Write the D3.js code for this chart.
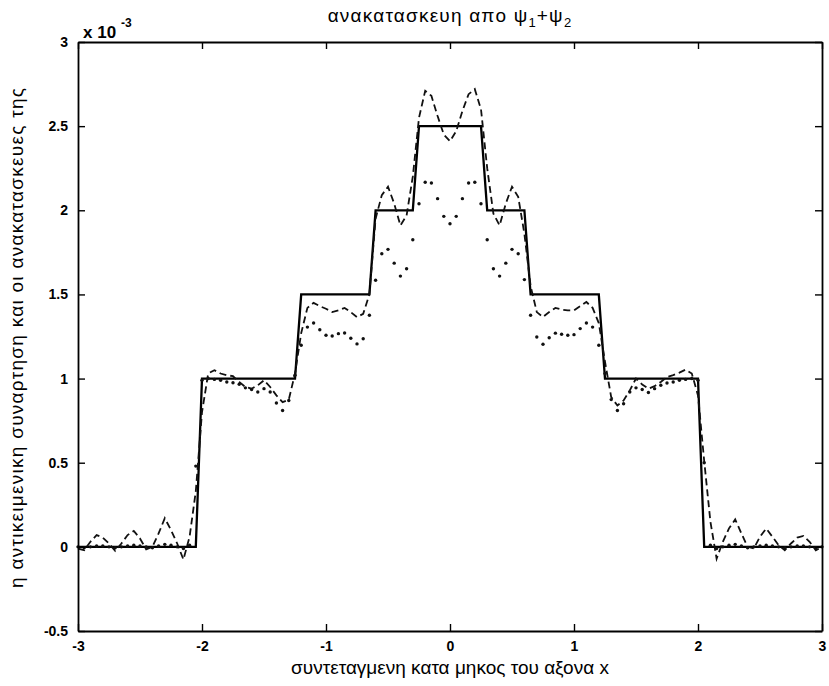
<!DOCTYPE html>
<html>
<head>
<meta charset="utf-8">
<script src="https://cdn.jsdelivr.net/npm/d3@7"></script>
<style>
  body { margin: 0; background: #fff; }
  svg { display: block; }
  text { font-family: "Liberation Sans", Arial, sans-serif; fill: #000; }
</style>
</head>
<body>
<svg id="chart" width="829" height="686"></svg>
<script>
// ---- data (values in units of 1e-3) ----
const xSamples = [
 -3.00,-2.95,-2.90,-2.85,-2.80,-2.75,-2.70,-2.65,-2.60,-2.55,-2.50,-2.45,-2.40,-2.35,-2.30,-2.25,-2.20,-2.15,-2.10,-2.05,
 -2.00,-1.95,-1.90,-1.85,-1.80,-1.75,-1.70,-1.65,-1.60,-1.55,-1.50,-1.45,-1.40,-1.35,-1.30,-1.25,-1.20,-1.15,-1.10,-1.05,
 -1.00,-0.95,-0.90,-0.85,-0.80,-0.75,-0.70,-0.65,-0.60,-0.55,-0.50,-0.45,-0.40,-0.35,-0.30,-0.25,-0.20,-0.15,-0.10,-0.05,
  0.00,
  0.05, 0.10, 0.15, 0.20, 0.25, 0.30, 0.35, 0.40, 0.45, 0.50, 0.55, 0.60, 0.65, 0.70, 0.75, 0.80, 0.85, 0.90, 0.95, 1.00,
  1.05, 1.10, 1.15, 1.20, 1.25, 1.30, 1.35, 1.40, 1.45, 1.50, 1.55, 1.60, 1.65, 1.70, 1.75, 1.80, 1.85, 1.90, 1.95, 2.00,
  2.05, 2.10, 2.15, 2.20, 2.25, 2.30, 2.35, 2.40, 2.45, 2.50, 2.55, 2.60, 2.65, 2.70, 2.75, 2.80, 2.85, 2.90, 2.95, 3.00
];

// objective (step) function
const solidValues = [
 0,0,0,0,0,0,0,0,0,0,0,0,0,0,0,0,0,0,0,0,
 1,1,1,1,1,1,1,1,1,1,1,1,1,1,1,1,1.5,1.5,1.5,1.5,
 1.5,1.5,1.5,1.5,1.5,1.5,1.5,1.5,2,2,2,2,2,2,2,2.5,2.5,2.5,2.5,2.5,
 2.5,
 2.5,2.5,2.5,2.5,2.5,2,2,2,2,2,2,2,1.5,1.5,1.5,1.5,1.5,1.5,1.5,1.5,
 1.5,1.5,1.5,1.5,1,1,1,1,1,1,1,1,1,1,1,1,1,1,1,1,
 0,0,0,0,0,0,0,0,0,0,0,0,0,0,0,0,0,0,0,0
];

// reconstruction (dashed)
const dashedValues = [
 -0.01,-0.02,0.03,0.07,0.055,0.02,-0.024,0.02,0.07,0.095,0.05,-0.015,0.0,0.08,0.17,0.10,0.02,-0.075,0.06,0.33,
 0.80,1.03,1.05,1.03,1.02,1.014,0.98,0.95,0.94,0.96,0.99,0.95,0.90,0.86,0.875,1.03,1.27,1.42,1.45,1.43,
 1.415,1.395,1.405,1.42,1.395,1.365,1.385,1.50,1.95,2.09,2.14,2.04,1.91,1.97,2.20,2.55,2.71,2.68,2.56,2.45,
 2.41,
 2.47,2.59,2.69,2.72,2.60,2.25,1.98,1.91,2.04,2.14,2.08,1.86,1.55,1.395,1.366,1.395,1.42,1.41,1.405,1.405,
 1.43,1.455,1.42,1.33,1.10,0.89,0.84,0.87,0.93,1.0,0.965,0.94,0.955,0.98,1.01,1.02,1.035,1.053,1.03,0.90,
 0.51,0.15,-0.07,0.03,0.11,0.163,0.08,0.0,-0.01,0.06,0.109,0.06,0.01,-0.02,0.02,0.055,0.065,0.03,-0.02,0.0
];

// reconstruction (dotted)
const dottedValues = [
 0.0,-0.005,0.0,0.005,0.005,0.0,-0.005,0.0,0.005,0.01,0.005,0.0,-0.005,0.005,0.015,0.01,0.0,-0.01,0.01,0.48,
 0.99,1.0,0.995,0.99,0.98,0.975,0.966,0.945,0.935,0.92,0.94,0.92,0.855,0.81,0.87,1.02,1.198,1.306,1.33,1.29,
 1.257,1.253,1.267,1.271,1.24,1.206,1.237,1.376,1.584,1.742,1.768,1.686,1.609,1.653,1.825,2.039,2.167,2.162,2.069,1.964,
 1.92,
 1.964,2.069,2.162,2.167,2.039,1.825,1.653,1.609,1.686,1.768,1.742,1.588,1.376,1.247,1.204,1.243,1.27,1.263,1.257,1.261,
 1.297,1.33,1.306,1.198,1.03,0.875,0.81,0.85,0.92,0.945,0.935,0.917,0.94,0.96,0.974,0.98,0.99,0.995,1.0,0.99,
 0.5,0.01,-0.01,0.0,0.01,0.015,0.005,-0.005,0.0,0.005,0.01,0.005,0.0,-0.005,0.0,0.005,0.005,0.0,-0.005,0.0
];

const xTicks = [-3, -2, -1, 0, 1, 2, 3];
const xTickLabels = ["-3", "-2", "-1", "0", "1", "2", "3"];
const yTicks = [-0.5, 0, 0.5, 1, 1.5, 2, 2.5, 3];
const yTickLabels = ["-0.5", "0", "0.5", "1", "1.5", "2", "2.5", "3"];
const titleParts = ["ανακατασκευη απο ψ", "1", "+ψ", "2"];
const xLabel = "συντεταγμενη κατα μηκος του αξονα x";
const yLabel = "η αντικειμενικη συναρτηση και οι ανακατασκευες της";

// ---- layout ----
const svg = d3.select("#chart");
const margin = { left: 78, top: 42, right: 7, bottom: 55 };
const W = 829, H = 686;
const x = d3.scaleLinear().domain([-3, 3]).range([margin.left, W - margin.right]);
const y = d3.scaleLinear().domain([-0.5, 3]).range([H - margin.bottom, margin.top]);

const toPts = vals => xSamples.map((xv, i) => [xv, vals[i]]);
const line = d3.line().x(d => x(d[0])).y(d => y(d[1]));

const plot = svg.append("g");

// solid
plot.append("path").datum(toPts(solidValues))
  .attr("d", line).attr("fill", "none").attr("stroke", "#000")
  .attr("stroke-width", 2.3).attr("stroke-linejoin", "miter");

// dashed
plot.append("path").datum(toPts(dashedValues))
  .attr("d", line).attr("fill", "none").attr("stroke", "#111")
  .attr("stroke-width", 1.8).attr("stroke-dasharray", "7,4");

// dotted (markers at samples)
plot.selectAll("circle.dot").data(toPts(dottedValues)).join("circle")
  .attr("class", "dot")
  .attr("cx", d => x(d[0])).attr("cy", d => y(d[1]))
  .attr("r", 1.7).attr("fill", "#111");

// ---- axes (box with inward ticks on all sides) ----
const tickLen = 7;
const axB = d3.axisBottom(x).tickValues(xTicks).tickSizeInner(-tickLen).tickSizeOuter(0).tickPadding(10)
  .tickFormat((d, i) => xTickLabels[i]);
const axT = d3.axisTop(x).tickValues(xTicks).tickSizeInner(-tickLen).tickSizeOuter(0).tickFormat("");
const axL = d3.axisLeft(y).tickValues(yTicks).tickSizeInner(-tickLen).tickSizeOuter(0).tickPadding(10)
  .tickFormat((d, i) => yTickLabels[i]);
const axR = d3.axisRight(y).tickValues(yTicks).tickSizeInner(-tickLen).tickSizeOuter(0).tickFormat("");

function styleAxis(g) {
  g.select(".domain").attr("stroke", "#000").attr("stroke-width", 1.8);
  g.selectAll(".tick line").attr("stroke", "#000").attr("stroke-width", 1.4);
  g.selectAll(".tick text").attr("font-size", 14).attr("font-weight", "bold")
    .attr("font-family", "'Liberation Sans', Arial, sans-serif").attr("fill", "#000");
}
svg.append("g").attr("transform", `translate(0,${y(-0.5)})`).call(axB).call(styleAxis);
svg.append("g").attr("transform", `translate(0,${y(3)})`).call(axT).call(styleAxis);
svg.append("g").attr("transform", `translate(${x(-3)},0)`).call(axL).call(styleAxis);
svg.append("g").attr("transform", `translate(${x(3)},0)`).call(axR).call(styleAxis);

// exponent marker
const ex = svg.append("text").attr("x", 83).attr("y", 38)
  .attr("font-size", 17).attr("font-weight", "bold");
ex.append("tspan").text("x 10");
ex.append("tspan").attr("dx", 5).attr("dy", -11).attr("font-size", 12).text("-3");

// title
const t = svg.append("text").attr("x", 450).attr("y", 22).attr("text-anchor", "middle")
  .attr("font-size", 19).attr("letter-spacing", 1.2);
t.append("tspan").text(titleParts[0]);
t.append("tspan").attr("dy", 5).attr("font-size", 13).text(titleParts[1]);
t.append("tspan").attr("dy", -5).text(titleParts[2]);
t.append("tspan").attr("dy", 5).attr("font-size", 13).text(titleParts[3]);

// axis labels
svg.append("text").attr("x", 450).attr("y", 674).attr("text-anchor", "middle")
  .attr("font-size", 19).text(xLabel);
svg.append("text").attr("transform", `translate(23,338) rotate(-90)`).attr("text-anchor", "middle")
  .attr("font-size", 19).attr("textLength", 500).attr("lengthAdjust", "spacing").text(yLabel);
</script>
</body>
</html>
